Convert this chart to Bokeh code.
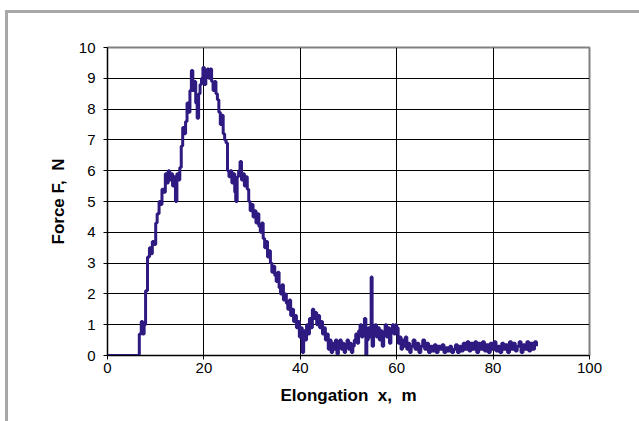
from bokeh.plotting import figure
from bokeh.models import ColumnDataSource, FixedTicker, Range1d, InlineStyleSheet
from bokeh.embed import file_html
from bokeh.resources import INLINE

# Elongation x (m) and Force F (N)
elongation = [
    0, 6.6, 7.0, 7.3, 7.6, 7.9, 8.3, 8.7, 9.0, 9.3, 9.6, 10.0, 10.3, 10.7, 11.0, 11.3, 11.6,
    12.0, 12.3, 12.6, 12.9, 13.2, 13.5, 13.8, 14.1, 14.4, 14.7, 15.0, 15.3, 15.6, 15.9,
    16.2, 16.5, 16.8, 17.1, 17.4, 17.7, 18.0, 18.3, 18.6, 18.9, 19.2, 19.5, 19.8, 20.1,
    20.4, 20.7, 21.0, 21.3, 21.6, 21.9, 22.2, 22.5, 22.8, 23.1, 23.4, 23.7, 24.0, 24.3,
    24.6, 24.9, 25.2, 25.5, 25.8, 26.1, 26.4, 26.6, 26.9, 27.2, 27.5, 27.8, 28.1, 28.4,
    28.7, 29.0, 29.3, 29.6, 29.9, 30.2, 30.5, 30.8, 31.1, 31.4, 31.7, 32.0, 32.3, 32.6,
    32.9, 33.2, 33.5, 33.8, 34.1, 34.4, 34.7, 35.0, 35.3, 35.6, 35.9, 36.2, 36.5, 36.8,
    37.1, 37.4, 37.7, 38.0, 38.3, 38.6, 38.9, 39.2, 39.5, 39.8, 40.1, 40.4, 40.7, 41.0,
    41.3, 41.6, 41.9, 42.2, 42.5, 42.8, 43.1, 43.4, 43.7, 44.0, 44.3, 44.6, 44.9, 45.2,
    45.5, 45.8, 46.1, 46.4, 46.7, 47.0, 47.3, 47.6, 47.9, 48.2, 48.5, 48.8, 49.1, 49.4,
    49.7, 50.0, 50.3, 50.6, 50.9, 51.2, 51.5, 51.8, 52.1, 52.4, 52.7, 53.0, 53.3, 53.6,
    53.8, 54.1, 54.4, 54.7, 54.9, 55.2, 55.5, 55.8, 56.1, 56.4, 56.7, 57.0, 57.3, 57.6,
    57.9, 58.2, 58.5, 58.8, 59.1, 59.4, 59.7, 60.0, 60.3, 60.6, 60.9, 61.2, 61.5, 61.8,
    62.1, 62.4, 62.7, 63.0, 63.4, 63.8, 64.2, 64.6, 65.0, 65.4, 65.8, 66.2, 66.6, 67.0,
    67.4, 67.8, 68.2, 68.6, 69.0, 69.4, 69.8, 70.2, 70.6, 71.0, 71.4, 71.8, 72.2, 72.6,
    73.0, 73.4, 73.8, 74.2, 74.6, 75.0, 75.4, 75.8, 76.2, 76.6, 77.0, 77.4, 77.8, 78.2,
    78.6, 79.0, 79.4, 79.8, 80.2, 80.6, 81.0, 81.4, 81.8, 82.2, 82.6, 83.0, 83.4, 83.8,
    84.2, 84.6, 85.0, 85.4, 85.8, 86.2, 86.6, 87.0, 87.4, 87.8, 88.2, 88.6, 89.0,
]
force = [
    0, 0.7, 1.1, 0.7, 1.0, 2.1, 3.2, 3.5, 3.3, 3.7, 3.6, 4.3, 4.6, 5.0, 4.9, 5.4, 5.3,
    5.9, 5.6, 6.0, 5.7, 5.9, 5.5, 5.8, 5.0, 5.9, 5.7, 6.1, 6.8, 7.4, 7.2,
    7.6, 8.2, 7.9, 8.6, 9.25, 8.6, 8.9, 8.2, 7.7, 8.5, 8.8, 9.0, 9.35, 8.8,
    9.1, 9.3, 9.0, 9.3, 8.9, 8.6, 8.9, 8.5, 8.3, 7.9, 7.5, 7.8, 7.2, 7.0,
    6.9, 6.0, 5.8, 6.0, 5.6, 5.9, 5.3, 5.0, 5.8, 6.0, 6.3, 5.7, 5.9, 5.5,
    5.8, 5.4, 5.0, 4.7, 4.9, 4.5, 4.7, 4.3, 4.6, 4.2, 4.0, 4.3, 3.8, 3.5,
    3.7, 3.2, 3.4, 3.0, 2.7, 2.9, 2.6, 2.4, 2.7, 2.2, 2.0, 2.3, 1.8, 2.0,
    1.7, 1.5, 1.8, 1.3, 1.5, 1.1, 1.3, 0.9, 1.1, 0.6, 0.9, 0.1, 0.8, 0.5,
    1.0, 0.7, 1.2, 0.9, 1.5, 1.2, 1.4, 1.0, 1.3, 0.9, 1.1, 0.7, 0.9, 0.5,
    0.7, 0.2, 0.5, 0.1, 0.4, 0.2, 0.5, 0.05, 0.3, 0.5, 0.2, 0.4, 0.1, 0.3,
    0.5, 0.2, 0.4, 0.1, 0.3, 0.5, 0.7, 0.4, 0.8, 1.0, 0.6, 0.9, 1.2, 0.0,
    0.5, 0.9, 0.6, 2.55, 0.3, 0.8, 1.0, 0.6, 0.9, 0.5, 0.8, 0.3, 0.7, 1.0,
    0.6, 0.9, 0.4, 0.8, 1.0, 0.7, 1.0, 0.9, 0.4, 0.6, 0.2, 0.5, 0.3, 0.6,
    0.2, 0.4, 0.1, 0.3, 0.5, 0.2, 0.4, 0.1, 0.3, 0.5, 0.2, 0.4, 0.1, 0.3,
    0.15, 0.35, 0.1, 0.3, 0.2, 0.35, 0.1, 0.25, 0.15, 0.3, 0.1, 0.2, 0.35, 0.1,
    0.3, 0.15, 0.4, 0.2, 0.45, 0.15, 0.4, 0.2, 0.45, 0.1, 0.4, 0.2, 0.45, 0.15,
    0.35, 0.1, 0.4, 0.2, 0.45, 0.15, 0.3, 0.1, 0.4, 0.2, 0.35, 0.1, 0.45, 0.2,
    0.4, 0.15, 0.3, 0.45, 0.1, 0.35, 0.2, 0.45, 0.15, 0.4, 0.2, 0.45, 0.3,
]
x_ticks = [0, 20, 40, 60, 80, 100]
y_ticks = [0, 1, 2, 3, 4, 5, 6, 7, 8, 9, 10]
x_title = "Elongation\u00a0 x,\u00a0 m"
y_title = "Force F,\u00a0 N"

FONT = "Liberation Sans"

frame_css = InlineStyleSheet(css="""
:host::after {
  content: '';
  position: absolute;
  left: 5px; top: 10px; right: 0; bottom: 0;
  border-left: 3px solid #A8A8A8;
  border-top: 3px solid #A8A8A8;
  pointer-events: none;
}
""")

p = figure(width=639, height=421, output_backend="svg", toolbar_location=None,
           x_range=Range1d(0, 100), y_range=Range1d(0, 10),
           min_border_left=107, min_border_right=50, min_border_top=47, min_border_bottom=66,
           stylesheets=[frame_css])
p.background_fill_color = "white"
p.border_fill_color = "white"
p.outline_line_color = "#808080"
p.outline_line_width = 2

src = ColumnDataSource(dict(x=elongation, y=force))
p.step(x="x", y="y", source=src, mode="after", line_width=3, line_color="#2E1A80")

for ax, ticks in ((p.xaxis[0], x_ticks), (p.yaxis[0], y_ticks)):
    ax.ticker = FixedTicker(ticks=ticks)
    ax.minor_tick_line_color = None
    ax.major_tick_in = 0
    ax.major_tick_out = 4
    ax.major_tick_line_color = "black"
    ax.axis_line_color = "black"
    ax.major_label_text_font = FONT
    ax.major_label_text_font_size = "15px"
    ax.major_label_text_color = "black"
    ax.axis_label_text_font = FONT
    ax.axis_label_text_font_size = "17px"
    ax.axis_label_text_font_style = "bold"
    ax.axis_label_text_color = "black"

p.xaxis.axis_label = x_title
p.yaxis.axis_label = y_title
p.xaxis.major_label_standoff = 3
p.yaxis.major_label_standoff = 8
p.xaxis.axis_label_standoff = 10
p.yaxis.axis_label_standoff = 8

p.xgrid.ticker = FixedTicker(ticks=x_ticks)
p.ygrid.ticker = FixedTicker(ticks=y_ticks)
for g in (p.xgrid[0], p.ygrid[0]):
    g.grid_line_color = "black"
    g.grid_line_width = 1

open("out.html", "w").write(file_html(p, INLINE))
